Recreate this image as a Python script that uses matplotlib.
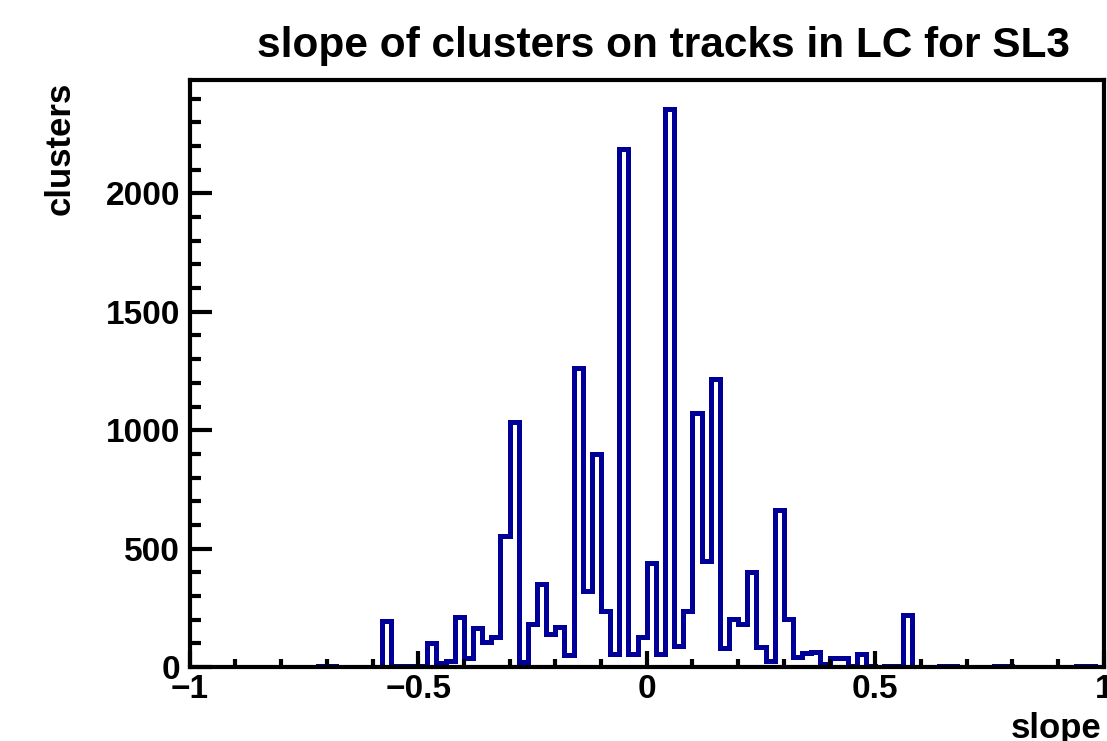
import matplotlib.pyplot as plt
import numpy as np
from matplotlib.ticker import MultipleLocator, FuncFormatter

plt.rcParams['font.family'] = ['Liberation Sans', 'DejaVu Sans']
plt.rcParams['font.weight'] = 'bold'

# histogram content, 100 bins from -1 to 1
counts = [0, 0, 0, 0, 0, 0, 0, 0, 0, 0,
          0, 1, 0, 2, 3, 3, 2, 1, 0, 1,
          2, 196, 3, 3, 6, 6, 100, 15, 27, 210,
          37, 163, 107, 125, 555, 1036, 22, 180, 350, 139,
          170, 50, 1263, 322, 899, 236, 57, 2187, 57, 125,
          438, 57, 2357, 89, 238, 1071, 448, 1218, 82, 201,
          182, 403, 83, 27, 663, 201, 44, 58, 65, 13,
          38, 40, 4, 54, 3, 1, 3, 5, 218, 2,
          1, 1, 3, 3, 2, 1, 0, 1, 3, 3,
          1, 1, 2, 1, 0, 1, 2, 3, 3, 2]
x_lo, x_hi = -1.0, 1.0
y_max = 2479

title = "slope of clusters on tracks in LC for SL3"
x_title = "slope"
y_title = "clusters"

W, H = 1107, 741
fig = plt.figure(figsize=(W / 100, H / 100), dpi=100)
ax = fig.add_axes([189.7 / W, (H - 667) / H, 914 / W, 587 / H])

edges = np.linspace(x_lo, x_hi, len(counts) + 1)
ax.stairs(counts, edges, color='#000099', linewidth=3.6, baseline=0)

ax.set_xlim(x_lo, x_hi)
ax.set_ylim(0, y_max)

for s in ax.spines.values():
    s.set_linewidth(3)

ax.xaxis.set_major_locator(MultipleLocator(0.5))
ax.xaxis.set_minor_locator(MultipleLocator(0.1))
ax.yaxis.set_major_locator(MultipleLocator(500))
ax.yaxis.set_minor_locator(MultipleLocator(100))
ax.xaxis.set_major_formatter(FuncFormatter(lambda v, p: ('%g' % v).replace('-', '\u2212')))

ax.tick_params(axis='x', which='major', direction='in', length=11.5, width=3,
               labelsize=24, pad=5, top=False)
ax.tick_params(axis='x', which='minor', direction='in', length=5.8, width=3, top=False)
ax.tick_params(axis='y', which='major', direction='in', length=16, width=3,
               labelsize=24, pad=7, right=False)
ax.tick_params(axis='y', which='minor', direction='in', length=8, width=3, right=False)

fig.text(663 / W, 1 - 57 / H, title, ha='center', va='baseline', fontsize=30.5, fontweight='bold')
fig.text(1101 / W, 3 / H, x_title, ha='right', va='baseline', fontsize=25, fontweight='bold')
fig.text(60 / W, 1 - 82 / H, y_title, ha='center', va='top', rotation=90, fontsize=25, fontweight='bold')

fig.savefig('out.png', dpi=100)
